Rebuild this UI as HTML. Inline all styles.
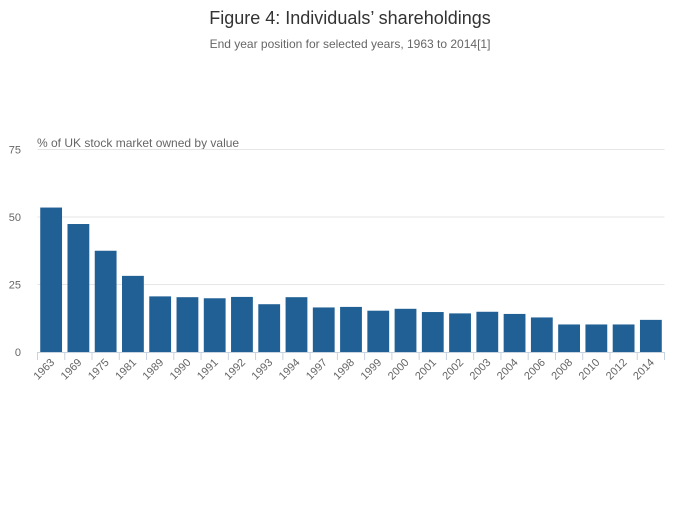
<!DOCTYPE html>
<html><head><meta charset="utf-8"><style>
body{margin:0;background:#fff;width:700px;height:502px;overflow:hidden;font-family:"Liberation Sans",sans-serif}
</style></head><body>
<svg id="chart" width="700" height="502" xmlns="http://www.w3.org/2000/svg">
<text x="350" y="24" text-anchor="middle" font-size="18" fill="#333">Figure 4: Individuals’ shareholdings</text>
<text x="350" y="48" text-anchor="middle" font-size="12" fill="#666">End year position for selected years, 1963 to 2014[1]</text>
<text x="37" y="147" font-size="12" fill="#666">% of UK stock market owned by value</text>
<g id="grid"></g><g id="bars"></g><g id="axis"></g>
</svg>
<script>
const categories=["1963","1969","1975","1981","1989","1990","1991","1992","1993","1994","1997","1998","1999","2000","2001","2002","2003","2004","2006","2008","2010","2012","2014"];
const values=[53.5,47.4,37.5,28.2,20.6,20.3,19.9,20.4,17.7,20.3,16.5,16.7,15.3,16.0,14.8,14.3,14.9,14.1,12.8,10.2,10.2,10.2,11.9];
const yTicks=[0,25,50,75];
const NS="http://www.w3.org/2000/svg";
const x0=37.5,x1=664.5,y0=352,yTop=149.5,yMax=75;
const band=(x1-x0)/categories.length;
const xPos=i=>x0+i*band;
const yPos=v=>y0-(v/yMax)*(y0-yTop);
function mk(t,a,p){const e=document.createElementNS(NS,t);for(const k in a)e.setAttribute(k,a[k]);p.appendChild(e);return e;}
const grid=document.getElementById('grid'),bars=document.getElementById('bars'),axis=document.getElementById('axis');
yTicks.forEach(v=>{
 if(v>0){const l=mk('line',{x1:x0,x2:x1,y1:yPos(v),y2:yPos(v),stroke:'#e6e6e6','stroke-width':1},grid);
 
 }
 const t=mk('text',{x:21,y:yPos(v)+4,'text-anchor':'end','font-size':11,fill:'#666'},grid);
 t.textContent=v;
 
 
});
categories.forEach((c,i)=>{
 const bw=band*0.8;
 const r=mk('rect',{x:xPos(i)+(band-bw)/2,y:yPos(values[i]),width:bw,height:y0-yPos(values[i]),fill:'#206095'},bars);
 
 
 const cx=xPos(i)+band/2;
 const t=mk('text',{x:cx+4,y:363,'text-anchor':'end','font-size':11,fill:'#666',transform:`rotate(-45 ${cx+4} 363)`},axis);
 t.textContent=c;
 
 
});
const al=mk('line',{x1:x0,x2:x1,y1:y0+0.5,y2:y0+0.5,stroke:'#c8d3e0','stroke-width':1},axis);


for(let i=0;i<=categories.length;i++){
 const tk=mk('line',{x1:xPos(i),x2:xPos(i),y1:y0,y2:y0+8,stroke:'#c8d3e0','stroke-width':1},axis);
 
 
}
</script>
</body></html>
